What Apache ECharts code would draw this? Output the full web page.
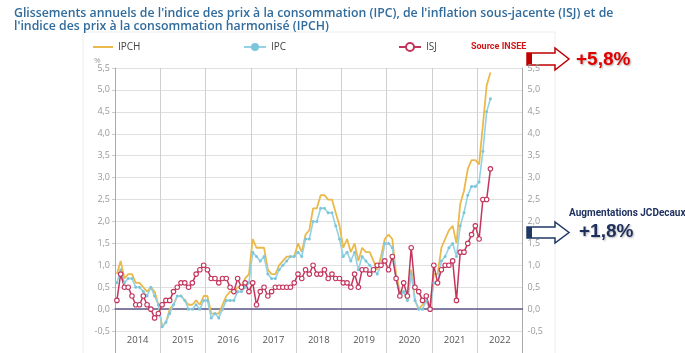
<!DOCTYPE html>
<html>
<head>
<meta charset="utf-8">
<script src="https://cdn.jsdelivr.net/npm/echarts@6/dist/echarts.min.js"></script>
<style>
  html, body { margin: 0; padding: 0; background: #fff; }
  #chart { width: 685px; height: 353px; }
</style>
</head>
<body>
<div id="chart"></div>
<script>
const years = ['2014', '2015', '2016', '2017', '2018', '2019', '2020', '2021', '2022'];

// glissements annuels en %, janvier 2014 -> avril 2022
const ipch = [
  0.8, 1.1, 0.7, 0.8, 0.8, 0.6, 0.6, 0.5, 0.4, 0.5, 0.4, 0.1,
  -0.4, -0.3, 0.0, 0.1, 0.3, 0.3, 0.2, 0.1, 0.1, 0.2, 0.1, 0.3,
  0.3, -0.1, -0.1, -0.1, 0.1, 0.3, 0.4, 0.4, 0.5, 0.5, 0.7, 0.8,
  1.6, 1.4, 1.4, 1.4, 0.9, 0.8, 0.8, 1.0, 1.1, 1.2, 1.2, 1.2,
  1.5, 1.3, 1.7, 1.8, 2.3, 2.3, 2.6, 2.6, 2.5, 2.5, 2.2, 1.9,
  1.4, 1.6, 1.3, 1.5, 1.1, 1.4, 1.3, 1.3, 1.1, 0.9, 1.2, 1.6,
  1.7, 1.6, 0.8, 0.4, 0.4, 0.2, 0.9, 0.2, 0.0, 0.1, 0.2, 0.0,
  0.8, 0.8, 1.4, 1.6, 1.8, 1.9, 1.5, 2.4, 2.7, 3.2, 3.4, 3.4,
  3.3, 4.2, 5.1, 5.4
];
const ipc = [
  0.6, 0.9, 0.6, 0.7, 0.7, 0.5, 0.5, 0.4, 0.3, 0.5, 0.3, 0.1,
  -0.4, -0.3, -0.1, 0.1, 0.3, 0.3, 0.2, 0.0, 0.0, 0.1, 0.0, 0.2,
  0.2, -0.2, -0.1, -0.2, 0.0, 0.2, 0.2, 0.2, 0.4, 0.4, 0.5, 0.6,
  1.3, 1.2, 1.1, 1.2, 0.8, 0.7, 0.7, 0.9, 1.0, 1.1, 1.2, 1.2,
  1.3, 1.2, 1.6, 1.6, 2.0, 2.0, 2.3, 2.3, 2.2, 2.2, 1.9, 1.6,
  1.2, 1.3, 1.1, 1.3, 0.9, 1.2, 1.1, 1.0, 0.9, 0.8, 1.0, 1.5,
  1.5, 1.4, 0.7, 0.3, 0.4, 0.2, 0.8, 0.2, 0.0, 0.0, 0.2, 0.0,
  0.6, 0.6, 1.1, 1.2, 1.4, 1.5, 1.2, 1.9, 2.2, 2.6, 2.8, 2.8,
  2.9, 3.6, 4.5, 4.8
];
const isj = [
  0.2, 0.8, 0.5, 0.5, 0.3, 0.1, 0.1, 0.3, 0.1, 0.0, -0.2, -0.1,
  0.1, 0.2, 0.2, 0.4, 0.5, 0.6, 0.6, 0.5, 0.6, 0.8, 0.9, 1.0,
  0.9, 0.7, 0.7, 0.6, 0.7, 0.7, 0.5, 0.4, 0.7, 0.5, 0.6, 0.4,
  0.6, 0.1, 0.4, 0.5, 0.3, 0.4, 0.5, 0.5, 0.5, 0.5, 0.5, 0.6,
  0.8, 0.7, 0.9, 0.8, 1.0, 0.8, 0.8, 0.9, 0.7, 0.8, 0.7, 0.7,
  0.6, 0.6, 0.5, 0.8, 0.5, 0.9, 0.9, 0.8, 0.9, 1.0, 1.0, 1.1,
  0.9, 1.2, 0.7, 0.3, 0.6, 0.3, 1.4, 0.5, 0.4, 0.2, 0.3, 0.0,
  1.0, 0.6, 0.9, 1.0, 1.0, 1.1, 0.2, 1.3, 1.3, 1.5, 1.7, 1.9,
  1.6, 2.5, 2.5, 3.2
];

const months = [];
years.forEach(y => {
  for (let m = 1; m <= 12; m++) months.push(y + '-' + (m < 10 ? '0' + m : m));
});

const yLabel = v => (v < -0.75 ? '' : v.toFixed(1).replace('.', ','));

const chart = echarts.init(document.getElementById('chart'));

chart.setOption({
  animation: false,
  textStyle: { fontFamily: 'Open Sans' },
  title: [
    {
      text: "Glissements annuels de l'indice des prix à la consommation (IPC), de l'inflation sous-jacente (ISJ) et de\nl'indice des prix à la consommation harmonisé (IPCH)",
      left: 9, top: 2,
      textStyle: { fontSize: 12.3, fontWeight: 600, color: '#2f6b9c', lineHeight: 13, fontFamily: 'Open Sans' }
    },
    { text: '%', left: 89, top: 52, textStyle: { fontSize: 8, fontWeight: 'normal', color: '#999' } },
    {
      text: 'Source INSEE', left: 466, top: 37,
      textStyle: { fontSize: 9, fontWeight: 'bold', color: '#d01818', fontFamily: 'Roboto' }
    },
    {
      text: '+5,8%', left: 571, top: 45,
      textStyle: {
        fontSize: 19, fontWeight: 'bold', color: '#e00000', fontFamily: 'Liberation Sans',
        textShadowColor: 'rgba(0,0,0,0.35)', textShadowBlur: 2, textShadowOffsetX: 1, textShadowOffsetY: 1
      }
    },
    {
      text: 'Augmentations JCDecaux', left: 564, top: 203,
      textStyle: { fontSize: 10, fontWeight: 'bold', color: '#1f3260', fontFamily: 'Roboto' }
    },
    {
      text: '+1,8%', left: 574, top: 217,
      textStyle: {
        fontSize: 19, fontWeight: 'bold', color: '#1f2f5c', fontFamily: 'Liberation Sans',
        textShadowColor: 'rgba(0,0,0,0.3)', textShadowBlur: 2, textShadowOffsetX: 1, textShadowOffsetY: 1
      }
    }
  ],
  legend: [
    { data: [{ name: 'IPCH', icon: 'rect' }], left: 88, top: 37, itemHeight: 2, itemWidth: 20 },
    { data: ['IPC'], left: 238, top: 37 },
    { data: ['ISJ'], left: 393, top: 37 }
  ].map(l => Object.assign({
    itemWidth: 22, itemHeight: 10, itemGap: 5,
    textStyle: { fontSize: 10, color: '#444' }
  }, l)),
  grid: { left: 115, right: 162.5, top: 68, bottom: -1, containLabel: false },
  xAxis: [
    {
      type: 'category', data: months, boundaryGap: true,
      axisLine: { onZero: true, lineStyle: { color: '#5e5a88', width: 1.5 } },
      axisTick: { show: false }, axisLabel: { show: false }, splitLine: { show: false }
    },
    {
      type: 'category', data: years, boundaryGap: true, position: 'bottom',
      axisLine: { show: false, onZero: false }, axisTick: { show: false },
      axisLabel: { inside: true, margin: 8, color: '#555', fontSize: 9.5 },
      splitLine: { show: true, lineStyle: { color: '#cfcfcf', width: 1 } }
    }
  ],
  yAxis: [
    {
      type: 'value', min: -1, max: 5.5, interval: 0.5, position: 'left',
      axisLine: { show: true, lineStyle: { color: '#aaa' } },
      axisTick: { show: true, length: 3, lineStyle: { color: '#ccc' } },
      axisLabel: { formatter: yLabel, color: '#999', fontSize: 9, margin: 5 },
      splitLine: { lineStyle: { color: '#e0e0e0' } }
    },
    {
      type: 'value', min: -1, max: 5.5, interval: 0.5, position: 'right',
      axisLine: { show: true, lineStyle: { color: '#aaa' } },
      axisTick: { show: false },
      axisLabel: { formatter: yLabel, color: '#999', fontSize: 9, margin: 5 },
      splitLine: { show: false }
    }
  ],
  series: [
    {
      name: 'IPCH', type: 'line', data: ipch, xAxisIndex: 0, yAxisIndex: 0,
      symbol: 'none', itemStyle: { color: '#ebb94a' }, lineStyle: { width: 1.8, color: '#ebb94a' }
    },
    {
      name: 'IPC', type: 'line', data: ipc, xAxisIndex: 0, yAxisIndex: 0,
      symbol: 'circle', symbolSize: 3, showSymbol: true, showAllSymbol: true,
      itemStyle: { color: '#7cc6dc' }, lineStyle: { width: 1.6, color: '#93d1e4' }
    },
    {
      name: 'ISJ', type: 'line', data: isj, xAxisIndex: 0, yAxisIndex: 0,
      symbol: 'circle', symbolSize: 4.5, showSymbol: true, showAllSymbol: true,
      itemStyle: { color: '#fff', borderColor: '#c4355e', borderWidth: 1.1 },
      lineStyle: { width: 1.5, color: '#c4355e' }
    }
  ],
  graphic: [
    {
      type: 'rect', shape: { x: 83, y: 32, width: 472, height: 330 },
      style: { fill: 'none', stroke: '#ececec', lineWidth: 1 }, z: -1
    },
    {
      type: 'polygon',
      shape: { points: [[527, 53], [555, 53], [555, 48], [569, 59], [555, 70], [555, 65], [527, 65]] },
      style: { fill: '#fff', stroke: '#c00000', lineWidth: 1.5 }
    },
    { type: 'rect', shape: { x: 527, y: 53, width: 5, height: 12 }, style: { fill: '#c00000' } },
    {
      type: 'polygon',
      shape: { points: [[527, 227], [555, 227], [555, 222], [569, 232.5], [555, 243], [555, 238], [527, 238]] },
      style: { fill: '#fff', stroke: '#1f3864', lineWidth: 1.5 }
    },
    { type: 'rect', shape: { x: 527, y: 227, width: 5, height: 11 }, style: { fill: '#1f3864' } }
  ]
});
</script>
</body>
</html>
